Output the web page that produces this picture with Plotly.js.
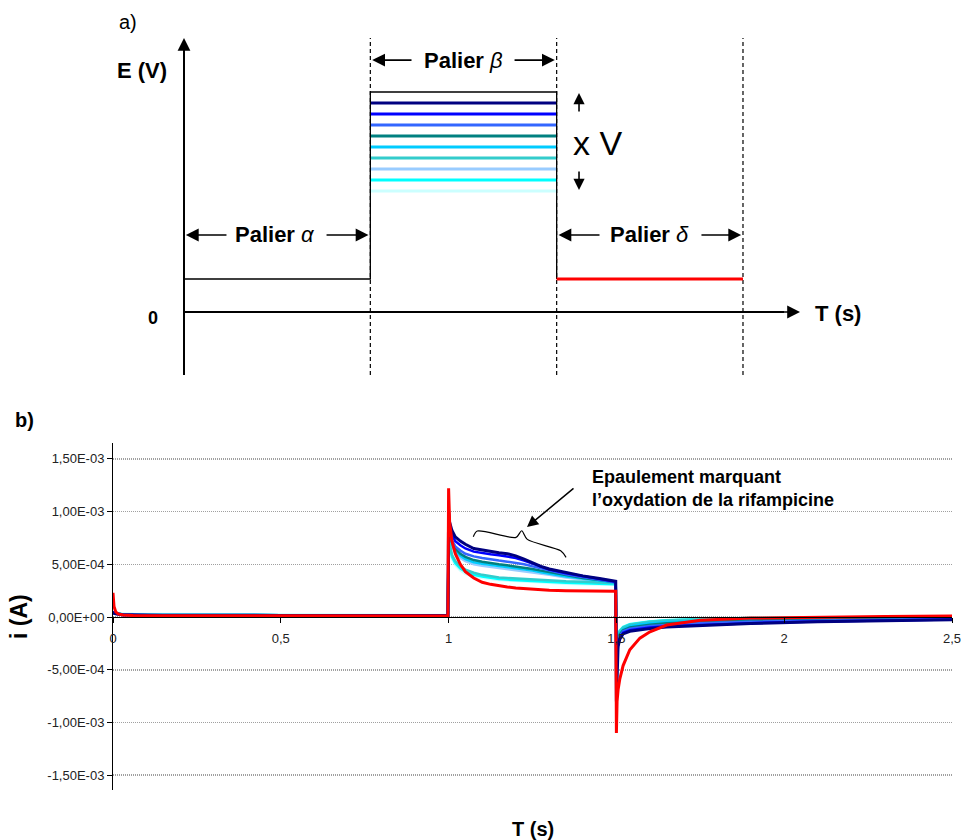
<!DOCTYPE html>
<html>
<head>
<meta charset="utf-8">
<script src="https://cdn.plot.ly/plotly-3.0.1.min.js"></script>
<style>html,body{margin:0;padding:0;background:#fff;}#chart{width:962px;height:840px;}</style>
</head>
<body>
<div id="chart"></div>
<script>
// ---------- Data: chronoamperometry (b) ----------
// time (s): palier alpha (0-1), palier beta (1-1.5), palier delta (1.5-2.5)
const t = [0, 0.003, 0.008, 0.015, 0.03, 0.06, 0.15, 0.5, 0.998,
  1.0, 1.003, 1.01, 1.02, 1.035, 1.05, 1.075, 1.1, 1.125, 1.15, 1.175, 1.2, 1.225, 1.25, 1.275, 1.3, 1.35, 1.4, 1.45, 1.498,
  1.5, 1.502, 1.505, 1.51, 1.52, 1.54, 1.57, 1.6, 1.65, 1.75, 1.9, 2.1, 2.3, 2.5];
// currents in units of 1e-4 A
const iScale = 1e-4;
const i_lightcyan = [0.5,0.45,0.4,0.35,0.32,0.3,0.28,0.22,0.2,
  7.8,6.6,5.5,4.9,4.4,4.1,3.85,3.7,3.6,3.5,3.45,3.4,3.35,3.3,3.25,3.2,3.15,3.1,3.1,3.05,
  -2.2,-1.9,-1.55,-1.25,-0.9,-0.65,-0.5,-0.4,-0.28,-0.17,-0.08,-0.04,-0.01,0.0];
const i_cyan = [0.5,0.4,0.35,0.3,0.25,0.22,0.2,0.18,0.18,
  8.0,6.8,5.7,5.1,4.6,4.3,4.0,3.85,3.7,3.6,3.55,3.5,3.45,3.4,3.35,3.3,3.25,3.2,3.15,3.1,
  -2.3,-2.0,-1.6,-1.3,-0.95,-0.68,-0.52,-0.42,-0.3,-0.18,-0.09,-0.04,-0.02,0.0];
const i_lightsky = [0.5,0.4,0.35,0.3,0.25,0.22,0.2,0.18,0.18,
  8.6,7.6,6.7,6.1,5.6,5.3,5.0,4.85,4.75,4.65,4.55,4.45,4.35,4.25,4.1,4.0,3.75,3.55,3.4,3.2,
  -2.8,-2.3,-1.85,-1.45,-1.08,-0.8,-0.62,-0.52,-0.4,-0.27,-0.16,-0.09,-0.05,-0.02];
const i_turq = [0.5,0.4,0.35,0.3,0.25,0.22,0.2,0.18,0.18,
  8.2,7.0,5.9,5.3,4.8,4.5,4.2,4.0,3.85,3.75,3.7,3.65,3.6,3.55,3.5,3.45,3.4,3.35,3.3,3.2,
  -2.5,-2.1,-1.7,-1.35,-1.0,-0.72,-0.55,-0.45,-0.33,-0.2,-0.1,-0.05,-0.02,0.0];
const i_skyblue = [0.5,0.4,0.35,0.3,0.25,0.22,0.2,0.18,0.18,
  8.8,7.8,6.9,6.3,5.8,5.5,5.2,5.05,4.95,4.85,4.75,4.65,4.55,4.4,4.25,4.1,3.85,3.65,3.45,3.25,
  -3.0,-2.5,-1.95,-1.55,-1.15,-0.88,-0.7,-0.6,-0.48,-0.35,-0.22,-0.13,-0.07,-0.03];
const i_teal = [0.5,0.4,0.35,0.3,0.25,0.22,0.2,0.18,0.18,
  9.0,8.0,7.1,6.5,6.0,5.7,5.4,5.25,5.1,5.0,4.9,4.8,4.7,4.55,4.4,4.25,3.95,3.7,3.5,3.3,
  -3.5,-2.8,-2.1,-1.65,-1.25,-0.98,-0.82,-0.72,-0.6,-0.47,-0.33,-0.22,-0.14,-0.08];
const i_royal = [0.5,0.4,0.35,0.3,0.25,0.22,0.2,0.18,0.18,
  9.2,8.2,7.3,6.7,6.3,6.0,5.75,5.6,5.45,5.35,5.25,5.15,5.0,4.8,4.6,4.4,4.05,3.8,3.55,3.3,
  -4.0,-3.2,-2.3,-1.8,-1.35,-1.1,-0.95,-0.85,-0.75,-0.6,-0.45,-0.33,-0.24,-0.16];
const i_blue = [0.5,0.35,0.3,0.25,0.2,0.2,0.15,0.15,0.15,
  9.6,8.6,7.8,7.2,6.8,6.5,6.2,6.05,5.95,5.85,5.75,5.6,5.35,5.05,4.75,4.5,4.15,3.85,3.6,3.35,
  -6.0,-4.0,-2.6,-2.0,-1.5,-1.25,-1.1,-1.0,-0.88,-0.74,-0.58,-0.43,-0.33,-0.23];
const i_navy = [0.5,0.35,0.3,0.25,0.2,0.2,0.15,0.15,0.15,
  10.0,9.0,8.2,7.6,7.2,6.9,6.5,6.35,6.25,6.1,6.0,5.8,5.5,5.15,4.8,4.55,4.2,3.9,3.65,3.4,
  -8.0,-4.5,-2.8,-2.1,-1.6,-1.35,-1.2,-1.1,-0.95,-0.8,-0.62,-0.45,-0.35,-0.25];
const i_red = [2.3,1.0,0.5,0.3,0.2,0.15,0.12,0.1,0.1,
  12.2,9.0,7.2,6.0,5.0,4.3,3.7,3.3,3.1,2.95,2.85,2.75,2.7,2.6,2.55,2.55,2.5,2.5,2.45,2.45,
  -11.0,-8.0,-6.9,-5.9,-4.6,-3.1,-2.0,-1.4,-0.76,-0.3,-0.1,0.0,0.05,0.1];

const yTickVals = [-1.5e-3, -1e-3, -5e-4, 0, 5e-4, 1e-3, 1.5e-3];
const yTickText = ['-1,50E-03','-1,00E-03','-5,00E-04','0,00E+00','5,00E-04','1,00E-03','1,50E-03'];
const xTickVals = [0, 0.5, 1, 1.5, 2, 2.5];
const xTickText = ['0','0,5','1','1,5','2','2,5'];

// brace marking the shoulder (t, i in 1e-4 A)
const braceT = [1.0736, 1.0855, 1.2008, 1.2178, 1.2345, 1.334, 1.35];
const braceI = [7.61, 8.15, 7.55, 8.18, 7.36, 6.28, 5.66];

// ---------- Data: potential program (a) ----------
// schematic time units: palier alpha 0-1, beta 1-2, delta 2-3
const stepX = [0, 1, 1, 2, 2];
const stepE = [3, 3, 20, 20, 3];
const betaLevels = [19, 18, 17, 16, 15, 14, 13, 12, 11];
const deltaX = [2, 3];
const deltaE = [3, 3];
const dashX = [1, 2, 3];

const seriesColors = ['#000080','#0000FF','#3366FF','#008080','#00CCFF','#33CCCC','#99CCFF','#00FFFF','#CCFFFF'];
const bottomSeries = [i_navy, i_blue, i_royal, i_teal, i_skyblue, i_turq, i_lightsky, i_cyan, i_lightcyan];

const W = 962, H = 840;
const px = v => v / W, py = v => 1 - v / H;
const FONT = 'Liberation Sans, Arial, sans-serif';
const E_MIN = -5.73, E_MAX = 24.91;

const traces = [];
// ---- bottom curves (draw lighter first, navy then red on top)
for (let k = bottomSeries.length - 1; k >= 0; k--) {
  traces.push({x: t, y: bottomSeries[k].map(v => v * iScale), type: 'scatter', mode: 'lines',
    line: {color: seriesColors[k], width: k === 0 ? 3 : 2.5}, xaxis: 'x', yaxis: 'y', hoverinfo: 'skip'});
}
traces.push({x: t, y: i_red.map(v => v * iScale), type: 'scatter', mode: 'lines',
  line: {color: '#FF0000', width: 3}, xaxis: 'x', yaxis: 'y', hoverinfo: 'skip'});
traces.push({x: braceT, y: braceI.map(v => v * iScale), type: 'scatter', mode: 'lines',
  line: {color: '#000', width: 1.2, shape: 'spline', smoothing: 0.8}, xaxis: 'x', yaxis: 'y', hoverinfo: 'skip'});

// ---- top schematic
dashX.forEach(xv => traces.push({x: [xv, xv], y: [E_MIN, E_MAX], type: 'scatter', mode: 'lines',
  line: {color: '#000', width: 1.2, dash: '4px,3px'}, xaxis: 'x2', yaxis: 'y2', hoverinfo: 'skip'}));
traces.push({x: [0, 0], y: [E_MIN, 24.0], type: 'scatter', mode: 'lines', line: {color: '#000', width: 2}, xaxis: 'x2', yaxis: 'y2', hoverinfo: 'skip'});
traces.push({x: [0, 3.22], y: [0, 0], type: 'scatter', mode: 'lines', line: {color: '#000', width: 2}, xaxis: 'x2', yaxis: 'y2', hoverinfo: 'skip'});
betaLevels.forEach((lv, k) => traces.push({x: [1, 2], y: [lv, lv], type: 'scatter', mode: 'lines',
  line: {color: seriesColors[k], width: 3}, xaxis: 'x2', yaxis: 'y2', hoverinfo: 'skip'}));
traces.push({x: stepX, y: stepE, type: 'scatter', mode: 'lines', line: {color: '#000', width: 1.3}, xaxis: 'x2', yaxis: 'y2', hoverinfo: 'skip'});
traces.push({x: deltaX, y: deltaE, type: 'scatter', mode: 'lines', line: {color: '#FF0000', width: 3}, xaxis: 'x2', yaxis: 'y2', hoverinfo: 'skip'});

function arrow(x, y, ax, ay, sz) {
  return {x: x, y: y, ax: ax, ay: ay, xref: 'x2', yref: 'y2', axref: 'x2', ayref: 'y2', text: '',
    showarrow: true, arrowhead: 2, arrowsize: sz || 1.6, arrowwidth: 1.6, arrowcolor: '#000', standoff: 0, startstandoff: 0};
}
function txt(text, x, y, size, opts) {
  return Object.assign({text: text, x: x, y: y, xref: 'paper', yref: 'paper', showarrow: false,
    font: {family: FONT, size: size, color: '#000'}, xanchor: 'center', yanchor: 'middle'}, opts || {});
}
const annotations = [
  txt('a)', px(117), py(22), 20, {xanchor: 'left'}),
  txt('<b>E (V)</b>', px(142), py(70), 22),
  txt('<b>0</b>', px(153), py(318), 18),
  txt('<b>T (s)</b>', px(838), py(313), 22),
  txt('x V', px(597), py(143), 34),
  {text: '<b>Palier </b><i>β</i>', x: 1.5, y: 22.9, xref: 'x2', yref: 'y2', showarrow: false, font: {family: FONT, size: 22, color: '#000'}},
  {text: '<b>Palier </b><i>α</i>', x: 0.488, y: 7, xref: 'x2', yref: 'y2', showarrow: false, font: {family: FONT, size: 22, color: '#000'}},
  {text: '<b>Palier </b><i>δ</i>', x: 2.5, y: 7, xref: 'x2', yref: 'y2', showarrow: false, font: {family: FONT, size: 22, color: '#000'}},
  arrow(1.01, 22.9, 1.229, 22.9), arrow(1.99, 22.9, 1.766, 22.9),
  arrow(0.01, 7, 0.236, 7), arrow(0.99, 7, 0.757, 7),
  arrow(2.01, 7, 2.238, 7), arrow(2.99, 7, 2.769, 7),
  arrow(2.12, 19.9, 2.12, 18.1, 1.4), arrow(2.12, 11.1, 2.12, 12.9, 1.4),
  arrow(0, 24.91, 0, 22.5), arrow(3.306, 0, 3.0, 0),
  txt('<b>b)</b>', px(24), py(420), 20),
  txt('<b>i (A)</b>', px(19), py(617), 23, {textangle: -90}),
  txt('<b>T (s)</b>', px(533), py(829), 20),
  txt('<b>Epaulement marquant<br>l’oxydation de la rifampicine</b>', px(590), py(488), 18, {xanchor: 'left', align: 'left'}),
  {x: 1.2336, y: 8.53e-4, xref: 'x', yref: 'y', ax: 48, ay: -40, text: '', showarrow: true,
    arrowhead: 2, arrowsize: 1.5, arrowwidth: 1.5, arrowcolor: '#000', standoff: 0}
];

const layout = {
  width: W, height: H, margin: {l: 0, r: 0, t: 0, b: 0},
  paper_bgcolor: '#fff', plot_bgcolor: 'rgba(0,0,0,0)', showlegend: false, hovermode: false,
  font: {family: FONT, color: '#000'},
  xaxis: {domain: [113 / W, 952 / W], range: [0, 2.5], anchor: 'free', position: (H - 617) / H,
    showline: true, linecolor: '#000', linewidth: 1, ticks: 'outside', ticklen: 5, tickcolor: '#000',
    tickvals: xTickVals, ticktext: xTickText, showgrid: false, zeroline: false, ticklabelstandoff: 4,
    tickfont: {family: FONT, size: 13, color: '#222'}},
  yaxis: {domain: [50 / H, 397 / H], range: [-1.64e-3, 1.65e-3], anchor: 'x',
    showline: true, linecolor: '#000', linewidth: 1, ticks: 'outside', ticklen: 5, tickcolor: '#000',
    tickvals: yTickVals, ticktext: yTickText, showgrid: true, gridcolor: '#a0a0a0', griddash: '1px,1px', gridwidth: 1.5,
    zeroline: false, tickfont: {family: FONT, size: 13, color: '#222'}},
  xaxis2: {domain: [0, 1], range: [-184 / 186.33, (W - 184) / 186.33], anchor: 'y2', visible: false},
  yaxis2: {domain: [(H - 375) / H, (H - 38) / H], range: [E_MIN, E_MAX], anchor: 'x2', visible: false},
  annotations: annotations
};
Plotly.newPlot('chart', traces, layout, {displayModeBar: false, staticPlot: true});
</script>
</body>
</html>
